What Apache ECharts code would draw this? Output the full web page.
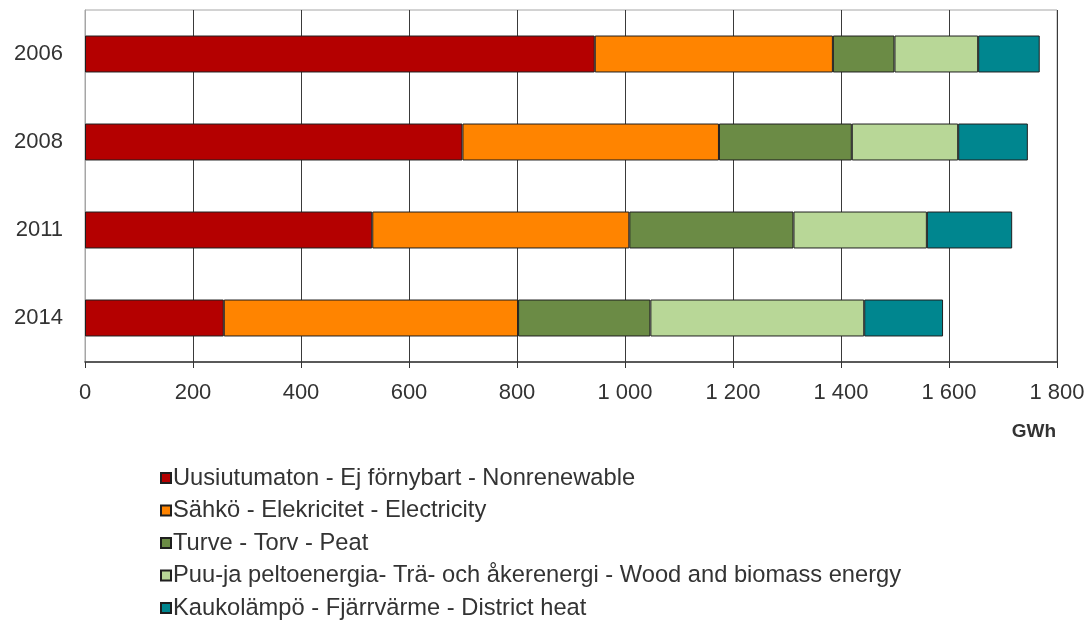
<!DOCTYPE html>
<html>
<head>
<meta charset="utf-8">
<script src="https://cdn.jsdelivr.net/npm/echarts@6/dist/echarts.min.js"></script>
<style>html,body{margin:0;padding:0;background:#fff}#c{width:1090px;height:639px}</style>
</head>
<body>
<div id="c"></div>
<script>
const years = ['2006', '2008', '2011', '2014'];
const nonrenewable = [944, 699, 532, 257];
const electricity = [441, 475, 476, 545];
const peat = [114, 246, 304, 245];
const wood = [155, 197, 247, 396];
const districtHeat = [114, 129, 158, 146];
const seriesNames = [
  'Uusiutumaton - Ej förnybart - Nonrenewable',
  'Sähkö - Elekricitet - Electricity',
  'Turve - Torv - Peat',
  'Puu-ja peltoenergia- Trä- och åkerenergi - Wood and biomass energy',
  'Kaukolämpö - Fjärrvärme - District heat'
];
const colors = ['#B40000', '#FF8400', '#6B8B45', '#B8D797', '#00868F'];
const xTicks = { min: 0, max: 1800, interval: 200 };
const unitLabel = 'GWh';

const font = 'Liberation Sans, Arial, sans-serif';
const chart = echarts.init(document.getElementById('c'), null, { renderer: 'canvas' });
const dataSets = [nonrenewable, electricity, peat, wood, districtHeat];
chart.setOption({
  animation: false,
  color: colors,
  grid: { left: 85, right: 33, top: 10, bottom: 277, show: true, borderColor: '#a6a6a6', borderWidth: 1, backgroundColor: 'transparent' },
  xAxis: {
    type: 'value', min: xTicks.min, max: xTicks.max, interval: xTicks.interval,
    axisLine: { show: true, lineStyle: { color: '#333', width: 1.5 } },
    axisTick: { show: true, length: 6, lineStyle: { color: '#333' } },
    splitLine: { show: true, lineStyle: { color: '#3a3a3a', width: 1 } },
    axisLabel: {
      margin: 20, fontSize: 22, color: '#333', fontFamily: font,
      formatter: v => String(v).replace(/\B(?=(\d{3})+(?!\d))/g, ' ')
    }
  },
  yAxis: {
    type: 'category', data: years, inverse: true,
    axisLine: { show: true, lineStyle: { color: '#a6a6a6' } },
    axisTick: { show: false },
    axisLabel: { margin: 22, fontSize: 22, color: '#333', fontFamily: font }
  },
  legend: {
    orient: 'vertical', left: 155, top: 461,
    itemWidth: 10, itemHeight: 10, itemGap: 8.5, icon: 'rect',
    textStyle: { fontSize: 23.7, lineHeight: 24, color: '#333', fontFamily: font, padding: [0, 0, 0, -3] },
    data: seriesNames
  },
  graphic: [{
    type: 'text', right: 34, top: 422,
    style: { text: unitLabel, fill: '#333', font: 'bold 19px Liberation Sans, Arial, sans-serif' }
  }],
  series: seriesNames.map((n, i) => ({
    name: n, type: 'bar', stack: 'total', barWidth: '42%', data: dataSets[i],
    itemStyle: { color: colors[i], borderColor: '#1f1f1f', borderWidth: 1 }
  }))
});
</script>
</body>
</html>
